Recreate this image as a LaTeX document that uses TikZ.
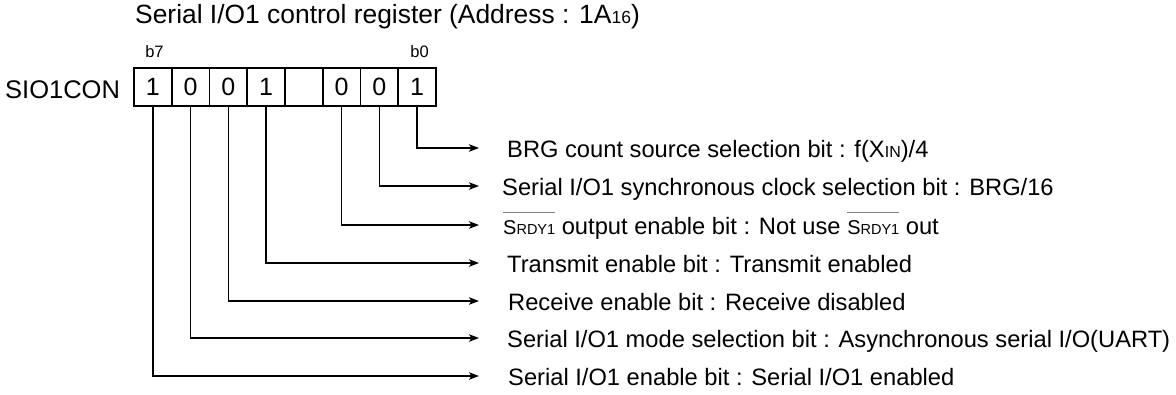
\documentclass[tikz,border=0pt]{standalone}
\usepackage{fontspec}
\setmainfont{Liberation Sans}
\usetikzlibrary{arrows.meta}
\newcommand{\smallfs}[1]{{\fontsize{16}{16}\selectfont #1}}
\newcommand{\srdybar}{\leavevmode\setbox0\hbox{{\fontsize{20}{20}\selectfont S}{\fontsize{14.5}{14.5}\selectfont RDY1}}\rlap{\textcolor{gray}{\raisebox{21pt}{\rule{\wd0}{0.9pt}}}}\box0}
\begin{document}
\begin{tikzpicture}[x=1pt,y=-1pt,
  cell/.style={draw,line width=1.8pt,minimum width=37.75pt,minimum height=38pt,inner sep=0pt,font=\fontsize{25}{25}\selectfont},
  conn/.style={line width=1.3pt,-{Stealth[length=10pt,width=7.5pt,inset=2.5pt]}},
  lbl/.style={anchor=base west,inner sep=0pt,font=\fontsize{23.7}{23.7}\selectfont},
  bitlbl/.style={anchor=base,inner sep=0pt,font=\fontsize{16.5}{16.5}\selectfont}]
\useasboundingbox (0,0) rectangle (1176,394);
\node[anchor=base west,inner sep=0pt,font=\fontsize{26.4}{26.4}\selectfont] (title) at (135,23) {Serial I/O1 control register (Address : 1A{\fontsize{17.5}{17.5}\selectfont 16})};
\node[anchor=base west,inner sep=0pt,font=\fontsize{25.5}{25.5}\selectfont] (name) at (5,98) {SIO1CON};
\node[bitlbl] (b7) at (154.5,57) {b7};
\node[bitlbl] (b0) at (419.5,57) {b0};
\node[cell] (c7) at (152.9,87) {1};
\node[cell] (c6) at (190.6,87) {0};
\node[cell] (c5) at (228.4,87) {0};
\node[cell] (c4) at (266.1,87) {1};
\node[cell] (c3) at (303.9,87) {};
\node[cell] (c2) at (341.6,87) {0};
\node[cell] (c1) at (379.4,87) {0};
\node[cell] (c0) at (417.1,87) {1};
\coordinate (a0) at (479,148);
\coordinate (a1) at (479,186);
\coordinate (a2) at (479,225);
\coordinate (a4) at (479,263);
\coordinate (a5) at (479,301);
\coordinate (a6) at (479,338);
\coordinate (a7) at (479,376);
\draw[conn] (c0.south) |- (a0);
\draw[conn] (c1.south) |- (a1);
\draw[conn] (c2.south) |- (a2);
\draw[conn] (c4.south) |- (a4);
\draw[conn] (c5.south) |- (a5);
\draw[conn] (c6.south) |- (a6);
\draw[conn] (c7.south) |- (a7);
\node[lbl] (l0) at (507,157) {BRG count source selection bit : f(X\smallfs{IN})/4};
\node[lbl] (l1) at (502,195) {Serial I/O1 synchronous clock selection bit : BRG/16};
\node[lbl] (l2) at (503,234) {\srdybar{} output enable bit : Not use \srdybar{} out};
\node[lbl] (l4) at (507,272) {Transmit enable bit : Transmit enabled};
\node[lbl] (l5) at (508,310) {Receive enable bit : Receive disabled};
\node[lbl] (l6) at (507,347) {Serial I/O1 mode selection bit : Asynchronous serial I/O(UART)};
\node[lbl] (l7) at (508,385) {Serial I/O1 enable bit : Serial I/O1 enabled};
\end{tikzpicture}
\end{document}
